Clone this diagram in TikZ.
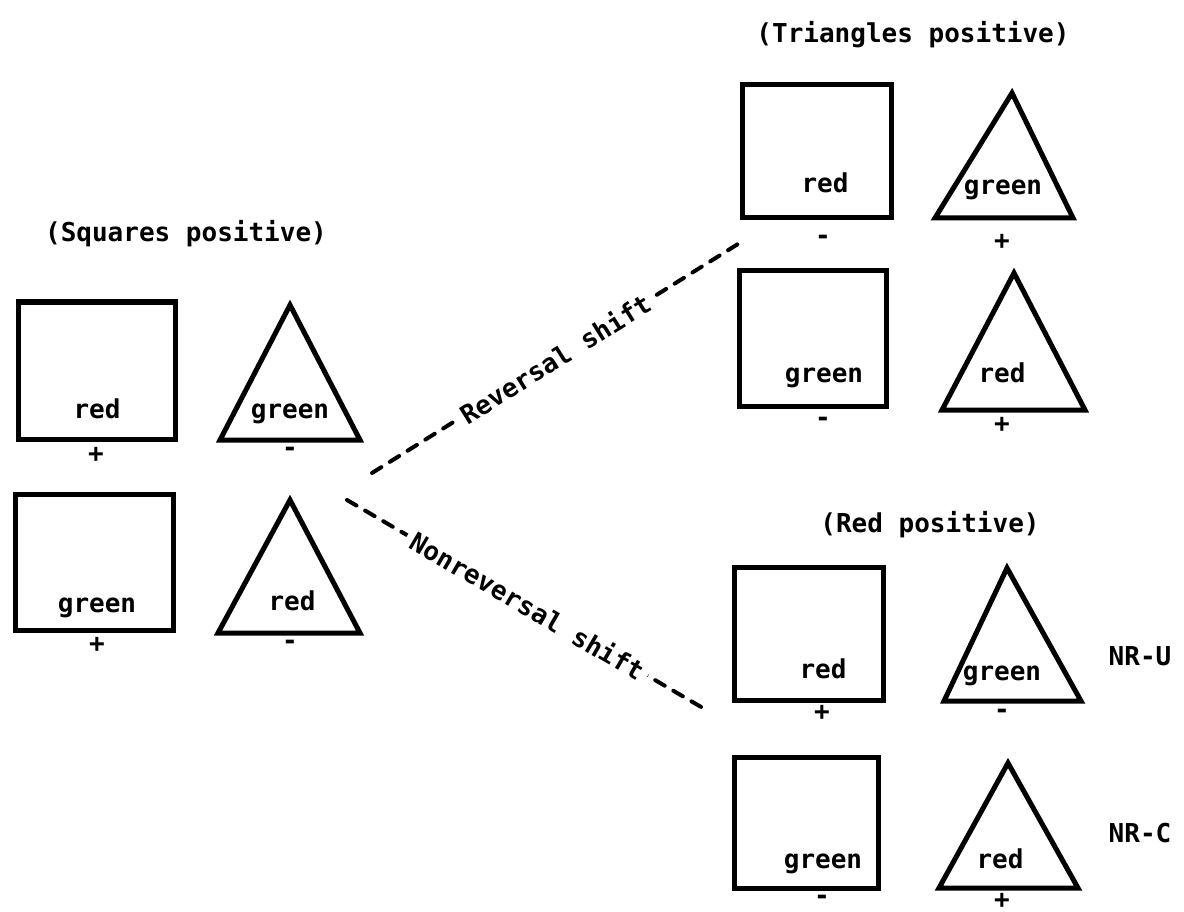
\documentclass[tikz,border=0pt]{standalone}
\usepackage{fontspec}
\newfontfamily\tw{DejaVu Sans Mono}
\begin{document}
\begin{tikzpicture}[x=1pt,y=-1pt,
  shp/.style={draw=black, line width=5pt, line join=miter},
  lbl/.style={anchor=base, inner sep=0pt, font=\tw\bfseries\fontsize{26}{30}\selectfont},
  sgn/.style={anchor=center, inner sep=0pt, font=\tw\bfseries\fontsize{26}{30}\selectfont},
  ttl/.style={anchor=base, inner sep=0pt, font=\tw\bfseries\fontsize{26}{30}\selectfont},
  link/.style={draw=black, line width=4pt, line cap=round, dash pattern=on 11pt off 10pt},
  onlink/.style={sloped, fill=white, inner sep=6pt, font=\tw\bfseries\fontsize{26}{30}\selectfont}]
\useasboundingbox (0,0) rectangle (1184,912);

% ---------- left group ----------
\node[ttl] (tsq) at (186,242) {(Squares positive)};
\draw[shp] (18,302) rectangle (175,439);
\draw[shp] (290,305) -- (360,440) -- (220,440) -- cycle;
\node[lbl] (l1a) at (97,418) {red};
\node[lbl] (l1b) at (290,418) {green};
\node[sgn] (l1p) at (96,455) {+};
\node[sgn] (l1m) at (290,452) {-};

\draw[shp] (15,494) rectangle (173,630);
\draw[shp] (290,500) -- (360,633) -- (218,633) -- cycle;
\node[lbl] (l2a) at (97,612) {green};
\node[lbl] (l2b) at (292,610) {red};
\node[sgn] (l2p) at (97,645) {+};
\node[sgn] (l2m) at (290,645) {-};

% ---------- top right group ----------
\node[ttl] (ttr) at (913,43) {(Triangles positive)};
\draw[shp] (742,85) rectangle (891,218);
\draw[shp] (1012,93) -- (1073,218) -- (935,218) -- cycle;
\node[lbl] (t1a) at (825,193) {red};
\node[lbl] (t1b) at (1003,195) {green};
\node[sgn] (t1m) at (823,240) {-};
\node[sgn] (t1p) at (1002,242) {+};

\draw[shp] (739,271) rectangle (886,406);
\draw[shp] (1014,273) -- (1085,410) -- (942,410) -- cycle;
\node[lbl] (t2a) at (824,382) {green};
\node[lbl] (t2b) at (1002,382) {red};
\node[sgn] (t2m) at (823,422) {-};
\node[sgn] (t2p) at (1002,425) {+};

% ---------- bottom right group ----------
\node[ttl] (trd) at (930,532) {(Red positive)};
\draw[shp] (734,567) rectangle (883,700);
\draw[shp] (1007,568) -- (1081,701) -- (944,701) -- cycle;
\node[lbl] (b1a) at (823,678) {red};
\node[lbl] (b1b) at (1002,680) {green};
\node[sgn] (b1p) at (822,713) {+};
\node[sgn] (b1m) at (1002,714) {-};
\node[lbl] (nru) at (1140,665) {NR-U};

\draw[shp] (734,757) rectangle (878,888);
\draw[shp] (1008,763) -- (1078,888) -- (939,888) -- cycle;
\node[lbl] (b2a) at (823,868) {green};
\node[lbl] (b2b) at (1000,868) {red};
\node[sgn] (b2m) at (822,900) {-};
\node[sgn] (b2p) at (1002,901) {+};
\node[lbl] (nrc) at (1140,842) {NR-C};

% ---------- connectors ----------
\coordinate (r1) at (372,473);
\coordinate (r2) at (738,244);
\coordinate (n1) at (347,500);
\coordinate (n2) at (708,711);
\draw[link] (r1) -- node[onlink, pos=0.5] (rlab) {Reversal shift} (r2);
\draw[link] (n1) -- node[onlink, pos=0.5] (nlab) {Nonreversal shift} (n2);
\end{tikzpicture}
\end{document}
